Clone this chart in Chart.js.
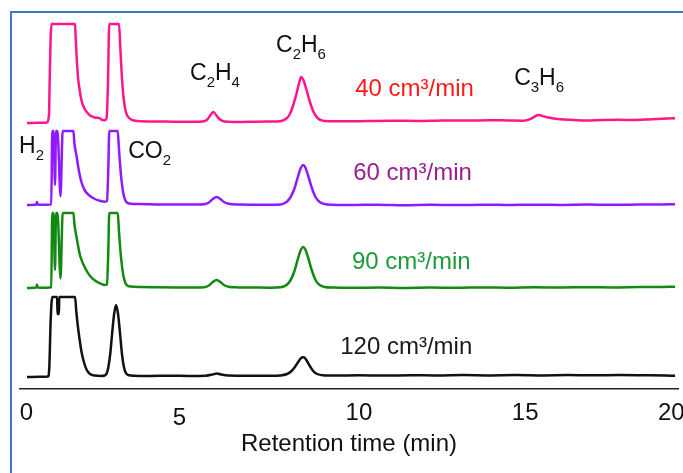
<!DOCTYPE html>
<html>
<head>
<meta charset="utf-8">
<script src="https://cdn.jsdelivr.net/npm/chart.js@4.4.1/dist/chart.umd.min.js"></script>
<style>
  html, body { margin: 0; padding: 0; background: #fff; }
  #wrap { width: 683px; height: 473px; position: relative; }
</style>
</head>
<body>
<div id="wrap"><canvas id="gc" width="683" height="473"></canvas></div>
<script>
// Gas chromatograms at four carrier flow rates, stacked with a vertical offset.
const flowRates = ['40 cm³/min', '60 cm³/min', '90 cm³/min', '120 cm³/min'];
const baselineOffsets = [266, 184, 101, 12];
const tickLabels = ['0', '5', '10', '15', '20'];
const tickValues = [0, 5, 10, 15, 20];

// [retention time (min), detector signal above the trace baseline]
const signal40 = [[0.015,0],[0.35,0.2],[0.62,0.4],[0.69,8],[0.71,40],[0.74,85],[0.77,99],[1.49,99],[1.51,85],[1.54,65],[1.58,46],[1.64,31],[1.70,21],[1.77,15],[1.85,11],[1.95,7.5],[2.10,5.5],[2.26,4.5],[2.31,3.2],[2.40,2.8],[2.46,5],[2.50,40],[2.54,99],[2.84,99],[2.88,75],[2.93,45],[2.98,25],[3.05,11],[3.15,5],[3.33,2.2],[3.79,1.5],[4.3,1.4],[4.8,1.2],[5.3,1.3],[5.45,1.7],[5.55,3.5],[5.64,7.5],[5.73,11],[5.82,8],[5.92,4],[6.02,2],[6.2,1.3],[6.6,1.1],[7.0,1.3],[7.4,1.4],[7.7,1.5],[7.85,2.2],[7.96,4],[8.07,8],[8.18,17],[8.30,31],[8.37,40],[8.43,46],[8.50,43],[8.58,35],[8.70,21],[8.82,10.5],[8.95,4.5],[9.1,2.3],[9.3,1.8],[9.8,1.7],[10.5,2.0],[11.2,2.2],[12.0,2.1],[12.8,2.6],[13.5,2.4],[14.2,2.8],[14.8,2.5],[15.24,2.3],[15.5,4.5],[15.71,8],[15.95,6],[16.38,3.7],[16.8,3.0],[17.2,2.4],[17.7,3.0],[18.2,3.2],[18.6,3.0],[19.2,3.8],[19.91,4.7]];
const signal60 = [[0.015,0],[0.25,0.3],[0.30,0.5],[0.32,3],[0.34,0.4],[0.6,0.2],[0.76,0.6],[0.79,74],[0.83,74],[0.875,20],[0.906,74],[0.95,74],[1.044,9],[1.11,74],[1.44,74],[1.47,62],[1.54,48],[1.62,32],[1.695,22],[1.80,14],[1.95,9],[2.10,6],[2.25,4.2],[2.41,3.3],[2.47,4],[2.51,35],[2.54,74],[2.80,74],[2.84,55],[2.90,30],[2.97,12],[3.03,5],[3.08,2.5],[3.2,1.2],[3.5,0.9],[4.0,0.6],[4.6,0.5],[5.2,0.4],[5.45,0.7],[5.6,2.5],[5.72,6],[5.84,8],[5.95,6],[6.06,3],[6.2,1.2],[6.5,0.4],[7.0,0.3],[7.5,0.2],[7.8,0.6],[7.98,3],[8.1,7.5],[8.22,16],[8.33,28],[8.42,37],[8.49,40],[8.56,37.5],[8.64,30],[8.76,17],[8.88,7.5],[9.0,3],[9.15,1],[9.4,0.3],[10,0],[10.8,0.3],[11.6,-0.2],[12.4,0.2],[13.2,-0.1],[14,0.3],[14.8,0],[15.6,0.3],[16.4,0.1],[17.2,0.4],[18,0.2],[18.8,0.5],[19.5,0.6],[19.91,0.8]];
const signal90 = [[0.015,0],[0.25,0.3],[0.30,0.6],[0.32,3.5],[0.34,0.6],[0.6,0.3],[0.76,0.7],[0.79,75],[0.83,75],[0.875,18],[0.906,75],[0.95,75],[1.044,9.7],[1.11,75],[1.44,75],[1.47,64],[1.54,50],[1.64,33],[1.74,24],[1.85,17],[1.95,12],[2.10,7.5],[2.26,4.7],[2.41,3],[2.47,3.5],[2.51,36],[2.54,75],[2.80,75],[2.84,56],[2.90,31],[2.97,13],[3.03,5.5],[3.08,2.8],[3.2,1.4],[3.5,1.0],[4.0,0.8],[4.6,0.6],[5.2,0.5],[5.45,0.8],[5.6,2.5],[5.72,6],[5.84,8],[5.95,6],[6.06,3],[6.2,1.3],[6.5,0.6],[7.0,0.4],[7.5,0.3],[7.8,0.7],[7.98,3],[8.1,7.5],[8.22,16.5],[8.33,29],[8.42,38],[8.49,41],[8.56,38.5],[8.64,31],[8.76,17.5],[8.88,7.5],[9.0,3],[9.15,1],[9.4,0.4],[10,0.2],[10.8,0.5],[11.6,0.1],[12.4,0.4],[13.2,0.2],[14,0.6],[14.8,0.3],[15.6,0.7],[16.4,0.5],[17.2,0.8],[18,0.6],[18.8,1.0],[19.5,1.1],[19.91,1.3]];
const signal120 = [[0.015,0],[0.4,0.2],[0.66,0.4],[0.70,10],[0.74,55],[0.79,80],[0.94,80],[0.95,63],[0.995,63],[1.005,80],[1.49,80],[1.53,65],[1.59,47],[1.65,33],[1.695,24],[1.77,14],[1.85,7],[1.95,3],[2.1,1.4],[2.3,1],[2.40,1.5],[2.46,3.5],[2.51,9.5],[2.57,23],[2.63,44],[2.69,63],[2.75,72],[2.81,63],[2.87,44],[2.93,23],[2.99,10],[3.05,4],[3.12,2],[3.3,1.2],[3.8,1.0],[4.4,1.3],[5.0,1.1],[5.5,1.3],[5.7,2.4],[5.84,3.6],[5.98,2.4],[6.2,1.4],[6.8,1.2],[7.4,1.3],[7.8,1.6],[8.0,3],[8.12,5.5],[8.24,10],[8.36,16],[8.45,19.5],[8.51,19.7],[8.58,17.5],[8.68,12],[8.80,6],[8.92,3],[9.1,1.8],[9.5,1.5],[10.2,1.7],[11,1.4],[11.8,1.8],[12.6,1.5],[13.4,1.9],[14.2,1.6],[15.0,1.9],[15.8,1.6],[16.6,1.9],[17.4,1.7],[18.2,1.9],[19.0,1.7],[19.6,1.5],[19.91,1.2]];

// Peak assignments and where their names sit (time, signal level)
const peakNames = ['H2', 'CO2', 'C2H4', 'C2H6', 'C3H6'];
const peakLabelTime = [-0.23, 3.12, 5.02, 7.66, 14.97];
const peakLabelLevel = [236, 231, 309, 337, 304];
const flowLabelTime = [10.09, 10.03, 9.99, 9.63];
const flowLabelLevel = [293, 209, 120, 35];

const traces = [signal40, signal60, signal90, signal120];
const lineColors = ['#ff168c', '#8f1aff', '#128a12', '#111111'];
const flowColors = ['#ff1a1a', '#99208f', '#1d9a3c', '#1a1a1a'];
const FONT = "'Liberation Sans', Arial, Helvetica, sans-serif";
// small horizontal nudges (in spaces) for the time-axis numbers
const tickNudge = [0, -3, 2, 3, -2];

const datasets = traces.map((trace, i) => ({
  label: flowRates[i],
  data: trace.map(([t, s]) => ({ x: t, y: s + baselineOffsets[i] })),
  borderColor: lineColors[i],
  borderWidth: 2.5,
  pointRadius: 0,
  fill: false,
  cubicInterpolationMode: 'monotone'
}));

const frame = {
  id: 'frame',
  afterDraw(chart) {
    const ctx = chart.ctx;
    ctx.save();
    ctx.strokeStyle = '#4472c4';
    ctx.lineWidth = 2;
    ctx.beginPath();
    ctx.moveTo(11, 473);
    ctx.lineTo(11, 12);
    ctx.lineTo(683, 12);
    ctx.stroke();
    ctx.restore();
  }
};

const annotate = {
  id: 'annotate',
  afterDatasetsDraw(chart) {
    const { ctx, scales: { x, y } } = chart;
    ctx.save();
    ctx.textBaseline = 'alphabetic';
    ctx.textAlign = 'left';
    flowRates.forEach((txt, i) => {
      ctx.font = '24px ' + FONT;
      ctx.fillStyle = flowColors[i];
      ctx.fillText(txt, x.getPixelForValue(flowLabelTime[i]), y.getPixelForValue(flowLabelLevel[i]));
    });
    ctx.fillStyle = '#111';
    peakNames.forEach((name, i) => {
      let px = x.getPixelForValue(peakLabelTime[i]);
      const py = y.getPixelForValue(peakLabelLevel[i]);
      for (const ch of name) {
        const sub = /[0-9]/.test(ch);
        ctx.font = (sub ? '15px ' : '23px ') + FONT;
        ctx.fillText(ch, px, py + (sub ? 7 : 0));
        px += ctx.measureText(ch).width;
      }
    });
    ctx.restore();
  }
};

new Chart(document.getElementById('gc'), {
  type: 'line',
  data: { datasets },
  plugins: [annotate, frame],
  options: {
    responsive: false,
    devicePixelRatio: 1,
    animation: false,
    layout: { padding: { left: 20, right: 5, top: 19, bottom: 0 } },
    plugins: { legend: { display: false }, tooltip: { enabled: false } },
    scales: {
      x: {
        type: 'linear',
        min: -0.2,
        max: 20,
        afterBuildTicks: s => { s.ticks = tickValues.map(v => ({ value: v })); },
        afterFit: s => { s.height = 84; s.paddingLeft = 0; s.paddingRight = 0; },
        grid: { display: false, drawTicks: false },
        border: { display: true, color: '#222', width: 1.5 },
        ticks: {
          autoSkip: false,
          maxRotation: 0,
          padding: 10,
          color: '#111',
          font: c => ({ family: FONT, size: 24, lineHeight: (c.tick && c.tick.value === 5) ? 1.62 : 1.2 }),
          callback: v => {
            const i = tickValues.indexOf(v);
            const n = tickNudge[i];
            const pad = ' '.repeat(Math.abs(n));
            return n >= 0 ? pad + tickLabels[i] : tickLabels[i] + pad;
          }
        },
        title: {
          display: true,
          text: 'Retention time (min)',
          color: '#111',
          font: { family: FONT, size: 24 },
          padding: { top: 0, bottom: 14 }
        }
      },
      y: { type: 'linear', display: false, min: 0, max: 370 }
    }
  }
});
</script>
</body>
</html>
